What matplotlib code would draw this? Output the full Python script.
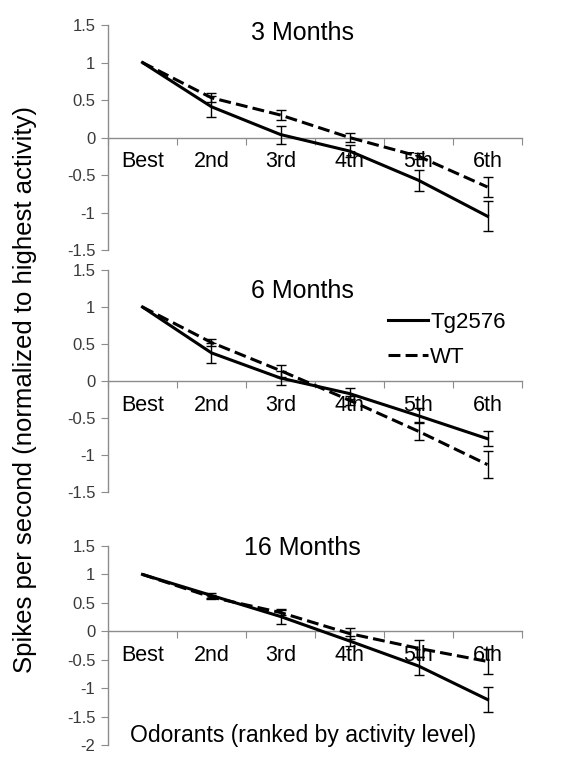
import matplotlib
matplotlib.use("Agg")
import matplotlib.pyplot as plt
from matplotlib.lines import Line2D
import numpy as np

plt.rcParams["font.family"] = ["Liberation Sans", "DejaVu Sans"]
plt.rcParams["axes.unicode_minus"] = False

categories = ["Best", "2nd", "3rd", "4th", "5th", "6th"]
series_names = ["Tg2576", "WT"]

# 3 months
tg_3m = [1.0, 0.41, 0.04, -0.18, -0.57, -1.05]
tg_3m_err = [0.0, 0.14, 0.12, 0.08, 0.14, 0.20]
wt_3m = [1.0, 0.53, 0.30, 0.0, -0.25, -0.66]
wt_3m_err = [0.0, 0.06, 0.07, 0.06, 0.04, 0.13]

# 6 months
tg_6m = [1.0, 0.38, 0.04, -0.17, -0.47, -0.78]
tg_6m_err = [0.0, 0.13, 0.10, 0.07, 0.10, 0.10]
wt_6m = [1.0, 0.52, 0.14, -0.26, -0.68, -1.13]
wt_6m_err = [0.0, 0.05, 0.08, 0.06, 0.12, 0.18]

# 16 months
tg_16m = [1.0, 0.63, 0.26, -0.17, -0.61, -1.20]
tg_16m_err = [0.0, 0.05, 0.13, 0.08, 0.15, 0.22]
wt_16m = [1.0, 0.60, 0.33, -0.04, -0.30, -0.53]
wt_16m_err = [0.0, 0.04, 0.05, 0.10, 0.15, 0.22]

panel_titles = ["3 Months", "6 Months", "16 Months"]
y_limits = [(-1.5, 1.5), (-1.5, 1.5), (-2.0, 1.5)]

AXIS_GRAY = "#8c8c8c"
TEXT_GRAY = "#3a3a3a"
WT_DASH = (0, (3.9, 1.7))

fig = plt.figure(figsize=(5.61, 7.66), dpi=100)

# [left, bottom, width, height] for the three panels
boxes = [
    [0.1925, 0.6736, 0.738, 0.2937],
    [0.1925, 0.3577, 0.738, 0.2898],
    [0.1925, 0.0274, 0.738, 0.2598],
]
title_y = [0.965, 0.905, 0.99]

data = [
    (tg_3m, tg_3m_err, wt_3m, wt_3m_err),
    (tg_6m, tg_6m_err, wt_6m, wt_6m_err),
    (tg_16m, tg_16m_err, wt_16m, wt_16m_err),
]

x = np.arange(len(categories), dtype=float)

for i, (box, (tg, tg_e, wt, wt_e)) in enumerate(zip(boxes, data)):
    ax = fig.add_axes(box)
    ax.patch.set_alpha(0)

    ax.errorbar(x, tg, yerr=tg_e, color="black", lw=2.2, ecolor="black",
                elinewidth=1.0, capsize=3.5, capthick=1.0, errorevery=(1, 1),
                zorder=3)
    ax.errorbar(x, wt, yerr=wt_e, color="black", lw=2.2, ecolor="black",
                elinewidth=1.0, capsize=3.5, capthick=1.0, errorevery=(1, 1),
                linestyle=WT_DASH, zorder=3)

    lo, hi = y_limits[i]
    ax.set_ylim(lo, hi)
    ax.set_xlim(-0.5, len(categories) - 0.5)

    yt = np.arange(lo, hi + 0.01, 0.5)
    ax.set_yticks(yt)
    ax.set_yticklabels([f"{v:g}" for v in yt])

    # category boundaries as major ticks, names as minor ticks
    ax.set_xticks(np.arange(-0.5, len(categories), 1.0))
    ax.set_xticklabels([])
    ax.set_xticks(x, minor=True)
    ax.set_xticklabels(categories, minor=True)

    ax.spines["top"].set_visible(False)
    ax.spines["right"].set_visible(False)
    ax.spines["bottom"].set_position(("data", 0))
    for s in ("left", "bottom"):
        ax.spines[s].set_color(AXIS_GRAY)
        ax.spines[s].set_linewidth(1.0)

    ax.tick_params(axis="y", which="major", direction="out", length=5,
                   color=AXIS_GRAY, pad=4, labelsize=12, labelcolor=TEXT_GRAY)
    ax.tick_params(axis="x", which="major", direction="out", length=5,
                   color=AXIS_GRAY)
    ax.tick_params(axis="x", which="minor", length=0, pad=10,
                   labelsize=15.5, labelcolor="black")

    ax.text(0.47, title_y[i], panel_titles[i], transform=ax.transAxes,
            ha="center", va="center", fontsize=18)

    if i == 1:
        handles = [
            Line2D([], [], color="black", lw=2.2),
            Line2D([], [], color="black", lw=2.2, linestyle=WT_DASH),
        ]
        ax.legend(handles, series_names, loc="upper left",
                  bbox_to_anchor=(0.655, 0.85), frameon=False,
                  fontsize=16, handlelength=1.8, handletextpad=0.1,
                  labelspacing=0.6, borderaxespad=0.0)

fig.text(0.045, 0.492, "Spikes per second (normalized to highest activity)",
         rotation=90, ha="center", va="center", fontsize=18.5)
fig.text(0.54, 0.04, "Odorants (ranked by activity level)",
         ha="center", va="center", fontsize=16.5)

fig.savefig("out.png", dpi=100)
plt.close(fig)
